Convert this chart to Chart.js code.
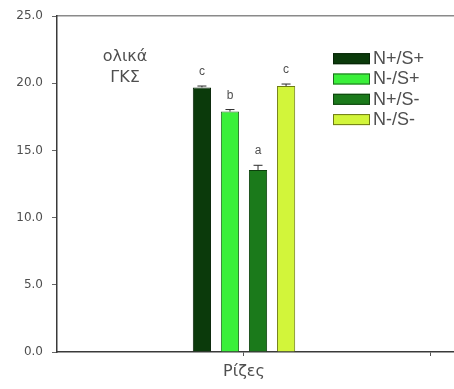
<!DOCTYPE html>
<html>
<head>
<meta charset="utf-8">
<script src="https://cdn.jsdelivr.net/npm/chart.js@4/dist/chart.umd.min.js"></script>
<style>
html,body{margin:0;padding:0;background:#fff;}
#wrap{width:454px;height:389px;}
</style>
</head>
<body>
<div id="wrap"><canvas id="c" width="454" height="389"></canvas></div>
<script>
const categoryLabels = ['Ρίζες', ''];
const categoryPositions = [1, 2];
const seriesNames = ['N+/S+', 'N-/S+', 'N+/S-', 'N-/S-'];
const seriesValues = [19.7, 17.9, 13.55, 19.8];
const seriesErrors = [0.1, 0.15, 0.35, 0.15];
const significanceLetters = ['c', 'b', 'a', 'c'];
const yTicks = [0, 5, 10, 15, 20, 25];
const annotationLines = ['ολικά', 'ΓΚΣ'];

const fillColors = ['#0b3a0b', '#3af03a', '#1b7a1b', '#d2f53a'];
const borderColors = ['#062306', '#1f6a1f', '#0d400d', '#6e7a14'];
const FONT = '"Liberation Sans", Arial, sans-serif';
const WIDEFONT = '"DejaVu Sans", "Liberation Sans", sans-serif';
const TEXT = '#4f4f4f';

const datasets = seriesNames.map((name, i) => ({
  label: name,
  data: [{x: categoryPositions[0], y: seriesValues[i]}],
  backgroundColor: fillColors[i],
  borderColor: borderColors[i],
  borderWidth: 1,
  errors: [seriesErrors[i]],
  letters: [significanceLetters[i]],
  categoryPercentage: 0.6,
  barPercentage: 0.65
}));

const extrasPlugin = {
  id: 'extras',
  afterDatasetsDraw(chart) {
    const ctx = chart.ctx;
    const ys = chart.scales.y;
    ctx.save();
    chart.data.datasets.forEach((ds, i) => {
      const meta = chart.getDatasetMeta(i);
      meta.data.forEach((bar, j) => {
        const v = ds.data[j].y;
        const e = ds.errors[j];
        const yTop = ys.getPixelForValue(v + e);
        ctx.strokeStyle = '#2a2a2a';
        ctx.lineWidth = 1;
        ctx.beginPath();
        ctx.moveTo(bar.x, bar.y);
        ctx.lineTo(bar.x, yTop);
        ctx.moveTo(bar.x - 4.5, yTop);
        ctx.lineTo(bar.x + 4.5, yTop);
        ctx.stroke();
        ctx.fillStyle = TEXT;
        ctx.font = '12px ' + FONT;
        ctx.textAlign = 'center';
        ctx.textBaseline = 'alphabetic';
        ctx.fillText(ds.letters[j], bar.x, yTop - 11);
      });
    });
    const ca = chart.chartArea;
    ctx.fillStyle = TEXT;
    ctx.font = '16px ' + WIDEFONT;
    ctx.textAlign = 'center';
    ctx.textBaseline = 'middle';
    annotationLines.forEach((t, k) => {
      ctx.fillText(t, ca.left + 68, ca.top + 41 + k * 21);
    });
    ctx.textAlign = 'left';
    ctx.textBaseline = 'middle';
    ctx.font = '18px ' + FONT;
    chart.data.datasets.forEach((ds, i) => {
      const sx = ca.left + 276, sy = ca.top + 37 + i * 20.3;
      ctx.fillStyle = ds.backgroundColor;
      ctx.fillRect(sx, sy, 37, 11);
      ctx.strokeStyle = ds.borderColor;
      ctx.lineWidth = 1;
      ctx.strokeRect(sx + 0.5, sy + 0.5, 36, 10);
      ctx.fillStyle = TEXT;
      ctx.fillText(ds.label, sx + 40, sy + 6);
    });
    ctx.restore();
  }
};

new Chart(document.getElementById('c'), {
  type: 'bar',
  data: { datasets },
  plugins: [extrasPlugin],
  options: {
    responsive: false,
    animation: false,
    devicePixelRatio: 1,
    layout: { padding: 0 },
    plugins: { legend: { display: false }, tooltip: { enabled: false } },
    scales: {
      x: {
        type: 'linear',
        position: 'bottom',
        offset: false,
        min: 0,
        max: 2.123,
        afterBuildTicks: s => { s.ticks = categoryPositions.map(v => ({value: v})); },
        afterFit: s => { s.height = 37; },
        ticks: {
          autoSkip: false,
          maxRotation: 0,
          padding: 6,
          color: TEXT,
          font: { family: WIDEFONT, size: 16 },
          callback: (v) => categoryLabels[categoryPositions.indexOf(v)] ?? ''
        },
        grid: { display: true, offset: false, drawOnChartArea: false, drawTicks: true, tickLength: 4, color: '#555' },
        border: { display: true, color: '#3a3a3a', width: 1.5 }
      },
      x2: {
        type: 'linear',
        position: 'top',
        offset: false,
        min: 0, max: 1,
        afterFit: s => { s.height = 15; },
        ticks: { display: false },
        grid: { display: false, offset: false },
        border: { display: true, color: '#8a8a8a', width: 1.5 }
      },
      y: {
        min: 0,
        max: 25,
        afterBuildTicks: s => { s.ticks = yTicks.map(v => ({value: v})); },
        afterFit: s => { s.width = 57; },
        ticks: {
          padding: 9,
          color: TEXT,
          font: { family: WIDEFONT, size: 12 },
          callback: v => Number(v).toFixed(1)
        },
        grid: { display: true, drawOnChartArea: false, drawTicks: true, tickLength: 5, color: '#666' },
        border: { display: true, color: '#3a3a3a', width: 1.5 }
      }
    }
  }
});
</script>
</body>
</html>
